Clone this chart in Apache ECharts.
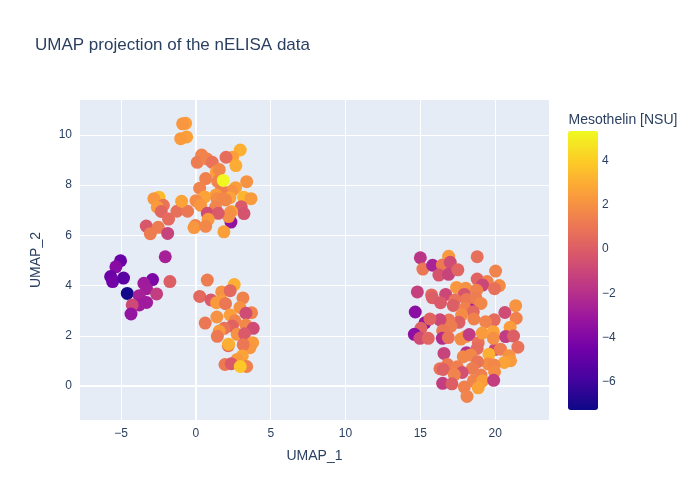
<!DOCTYPE html>
<html><head><meta charset="utf-8">
<script src="https://cdn.jsdelivr.net/npm/echarts@6/dist/echarts.min.js"></script>
<style>html,body{margin:0;padding:0;background:#fff}#c{width:700px;height:500px}</style>
</head><body><div id="c"></div>
<script>
var titleText = "UMAP projection of the nELISA data";
var colorbarTitle = "Mesothelin [NSU]";
var xName = "UMAP_1", yName = "UMAP_2";
var xTicks = [-5,0,5,10,15,20];
var yTicks = [0,2,4,6,8,10];
var cTicks = [-6,-4,-2,0,2,4];
var plasma = ["#0d0887","#46039f","#7201a8","#9c179e","#bd3786","#d8576b","#ed7953","#fb9f3a","#fdca26","#f0f921"];
var umap1 = [
2.34,18.47,15.31,18.09,20.0,
-0.69,-0.89,-0.62,-1.02,2.96,2.45,0.38,0.09,0.74,1.09,2.01,2.67,1.36,1.56,0.65,1.45,3.39,0.25,2.65,2.38,1.69,1.34,0.58,2.27,1.40,1.83,1.98,3.19,3.68,0,0.31,1.31,3.03,3.21,2.38,2.29,2.18,0.76,1.49,0.82,-0.04,-0.13,0.65,1.87,
-2.47,-2.81,-2.18,-2.58,-2.32,-1.83,-1.27,-0.56,-0.96,-3.32,-2.52,-3.05,-1.89,-2.05,
-5.04,-5.35,-5.70,-5.57,-4.84,-4.59,-2.90,-3.48,-3.30,-3.79,-2.63,-3.30,-3.79,-4.26,-4.34,-1.74,
0.76,2.56,1.72,2.29,3.14,0.25,1.0,1.38,1.72,1.98,2.94,3.72,3.34,2.29,1.40,0.62,2.61,2.43,3.34,3.83,1.89,1.56,1.43,2.76,3.25,3.79,3.61,3.16,2.16,2.18,3.10,2.76,1.94,2.36,3.39,2.96,
15.0,16.89,18.8,15.17,15.82,16.47,17.0,16.24,16.89,17.51,20.03,18.8,19.47,20.28,19.16,19.96,17.42,18.03,18.76,17.94,14.8,15.75,15.8,16.69,16.35,17.31,17.2,18.09,18.72,19.05,17.98,18.54,17.76,21.37,20.65,21.41,19.94,18.58,19.36,17.58,16.91,17.05,16.31,15.64,14.66,15.04,14.6,14.97,15.53,16.49,16.47,16.87,17.71,18.03,18.27,18.87,18.8,19.14,19.88,19.88,21.0,20.7,21.23,21.52,16.58,17.87,18.36,19.59,20.36,20.94,21.03,20.61,19.53,19.92,18.83,16.82,16.31,16.53,17.47,18.47,17.8,17.27,19.96,19.05,18.54,19.16,18.87,19.9,16.49,17.11,17.94,18.12,
1.83
];
var umap2 = [
6.53,3.09,2.52,1.33,1.46,
10.46,10.44,9.92,9.85,9.40,9.11,9.20,8.91,9.04,8.91,9.11,8.78,8.53,8.62,8.26,8.15,8.14,7.88,7.90,7.76,7.81,7.61,7.53,7.50,7.46,7.46,7.41,7.52,7.46,7.38,7.20,7.12,7.14,6.87,6.95,6.91,6.75,6.88,6.88,6.64,6.39,6.31,6.36,6.14,
7.52,7.46,7.20,7.12,6.95,6.65,6.96,6.96,7.36,6.37,6.32,6.07,6.08,5.15,
4.99,4.75,4.36,4.16,4.30,3.69,4.24,4.09,3.88,3.60,3.67,3.33,3.23,3.23,2.87,4.16,
4.22,4.04,3.75,3.80,3.51,3.57,3.43,3.32,3.39,3.28,3.13,2.92,2.90,2.83,2.75,2.51,2.60,2.39,2.43,2.30,2.30,2.19,1.98,2.06,2.08,1.73,1.53,1.65,1.61,1.67,1.20,1.06,0.86,0.89,0.78,0.78,
5.11,5.17,5.15,4.66,4.81,4.82,4.93,4.42,4.45,4.63,4.58,4.26,4.16,4.0,4.02,3.88,3.93,3.90,3.82,3.65,3.75,3.63,3.52,3.65,3.32,3.43,3.21,3.45,3.49,3.29,3.09,2.96,2.83,3.2,2.93,2.70,2.64,2.67,2.56,2.54,2.63,2.39,2.64,2.67,2.95,2.30,2.06,1.90,1.90,2.20,1.90,1.93,1.87,1.97,2.05,1.73,1.50,2.11,2.16,1.90,2.34,1.97,1.99,1.55,1.30,1.17,1.24,1.27,1.47,1.21,1.01,0.94,0.88,0.84,0.97,0.86,0.69,0.66,0.77,0.70,0.54,0.46,0.57,0.44,0.21,0.21,-0.07,0.23,0.11,0.09,-0.04,-0.41,
8.19
];
var mesothelin = [
-3.5,-3,-3.3,-2,-1.0,
2.5,2.2,2.5,2.3,3,2.5,1.5,1.2,1.5,0.8,0.6,2.9,2.5,1.6,1.4,1.5,2.0,1.5,2.5,2,1.3,2.4,2.6,2.6,1.8,1.6,1.6,3.2,2.3,1.8,2.2,1.5,-0.2,-0.5,2.8,2,1.9,-0.8,-0.2,2.3,1.5,2.2,1.6,2.5,
3.4,2.2,0.9,2.3,0.3,0.5,0.7,1.0,2.6,-0.3,1.2,1.2,-1.2,-2.7,
-4.8,-3.8,-4.8,-4.5,-5.3,-7.2,-4.2,-3,-2.9,-2.7,-1.4,-3,-3,-0.9,-3.4,0,
1.2,3,2,0.4,1.4,0.4,-0.2,2.3,2.3,1.0,2.0,1.5,-0.8,2.5,2.0,1.0,1.5,0.2,1.6,-0.8,0.8,2.3,1.1,2.0,-0.2,2.3,2.2,1.0,0.6,3,2.6,2.3,1.1,-0.2,1.4,3.8,
-1.8,2.3,0.7,1.0,-2.6,1.1,-0.8,-0.4,-1.2,0.3,1.5,0.2,1.4,1.8,-1.0,0.7,2.2,2.0,1.4,-0.4,-1.3,0.5,0,-1,-0.2,0.8,0,1.0,1.2,1.6,1.4,0.4,1.8,2.1,-0.8,1.4,0.5,1.4,1.5,0,1.0,1.2,-1,0.2,-3.7,0.1,-3.6,-0.8,0.3,1.0,-2.2,0.8,1.8,1.8,-1.5,0.8,0.5,2.3,2.6,1.9,2.4,-1.5,0,0.8,-1.2,1.6,1.6,3,1.3,2.0,2.3,2.6,1.8,1.6,0.9,1.1,0.8,0.1,1.3,1.2,-0.6,1.5,1.8,1.3,1.5,2.4,2.6,-1.4,-1.4,0,1.4,1.5,
5.2
];
var pts = umap1.map(function(x,i){return [x,umap2[i],mesothelin[i]];});
var ink = "#2a3f5f", font = '"Liberation Sans", Arial, sans-serif';
function minus(v){return String(v).replace("-","\u2212");}
var chart = echarts.init(document.getElementById("c"),null,{renderer:"canvas"});
chart.setOption({
  animation:false,
  backgroundColor:"#fff",
  textStyle:{fontFamily:font,color:ink},
  title:[
    {text:titleText,left:35,top:37,padding:0,textStyle:{fontFamily:font,fontSize:17,fontWeight:"normal",color:ink}},
    {text:colorbarTitle,left:568.5,top:113,padding:0,textStyle:{fontFamily:font,fontSize:14,fontWeight:"normal",color:ink}}
  ],
  grid:[
    {left:80,top:100,width:469,height:320,show:true,backgroundColor:"#e5ecf6",borderWidth:0},
    {left:568,top:132,width:30,height:279,show:false}
  ],
  xAxis:[
    {type:"value",min:-7.75,max:23.6,name:xName,nameLocation:"middle",nameGap:29,
     nameTextStyle:{fontSize:14,color:ink,fontFamily:font},
     axisLine:{show:false},axisTick:{show:false,customValues:xTicks},
     axisLabel:{customValues:xTicks,formatter:minus,fontSize:12,color:ink,margin:8,fontFamily:font},
     splitLine:{show:true,lineStyle:{color:"#fff",width:1}}},
    {type:"value",gridIndex:1,min:0,max:1,show:false}
  ],
  yAxis:[
    {type:"value",min:-1.35,max:11.39,name:yName,nameLocation:"middle",nameGap:37,
     nameTextStyle:{fontSize:14,color:ink,fontFamily:font},
     axisLine:{show:false},axisTick:{show:false,customValues:yTicks},
     axisLabel:{customValues:yTicks,formatter:minus,fontSize:12,color:ink,margin:8,padding:[3,0,0,0],fontFamily:font},
     splitLine:{show:true,lineStyle:{color:"#fff",width:1}}},
    {type:"value",gridIndex:1,min:-7.33,max:5.3,position:"right",
     axisLine:{show:false},axisTick:{show:false,customValues:cTicks},
     axisLabel:{customValues:cTicks,formatter:minus,fontSize:12,color:ink,margin:4,fontFamily:font},
     splitLine:{show:false}}
  ],
  visualMap:{type:"continuous",seriesIndex:0,dimension:2,min:-7.33,max:5.3,calculable:false,
    left:568,top:131,itemWidth:30,itemHeight:279,padding:0,text:null,showLabel:false,
    inRange:{color:plasma}},
  series:[
    {type:"scatter",data:pts,symbolSize:13,itemStyle:{opacity:1},z:5,progressive:0,large:false,silent:true},
    {type:"scatter",data:[],z:1,silent:true,
     markLine:{silent:true,symbol:"none",z:1,label:{show:false},animation:false,
       lineStyle:{color:"#fff",width:2,type:"solid"},
       data:[{xAxis:0},{yAxis:0}]}},
    {type:"scatter",xAxisIndex:1,yAxisIndex:1,data:[],silent:true}
  ]
});
</script></body></html>
